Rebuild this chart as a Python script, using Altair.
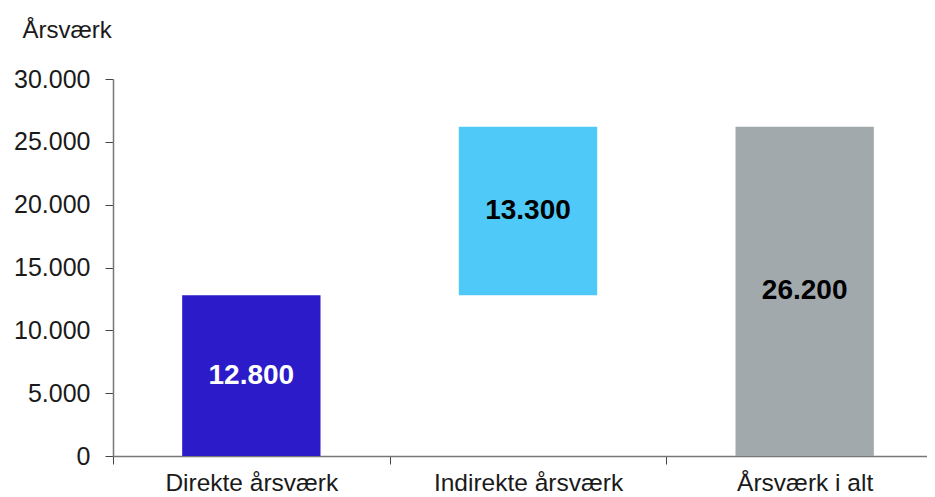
import altair as alt
import pandas as pd

categories = ["Direkte årsværk", "Indirekte årsværk", "Årsværk i alt"]
starts = [0, 12800, 0]
ends = [12800, 26200, 26200]
labels = ["12.800", "13.300", "26.200"]
colors = ["#2B1BC9", "#4FCAF8", "#A1A9AC"]
label_colors = ["#FFFFFF", "#000000", "#000000"]
y_ticks = [0, 5000, 10000, 15000, 20000, 25000, 30000]

df = pd.DataFrame({
    "cat": categories,
    "start": starts,
    "end": ends,
    "label": labels,
    "color": colors,
    "lcolor": label_colors,
})
df["mid"] = (df["start"] + df["end"]) / 2

FONT = "Liberation Sans"
RANGE_W = 830
STEP = RANGE_W / 3

x = alt.X("cat:N", sort=categories, title=None,
          scale=alt.Scale(paddingInner=0.5, paddingOuter=0.25, range=[0, RANGE_W]),
          axis=alt.Axis(labelAngle=0, labelFontSize=24.5, labelColor="#1a1a1a",
                        labelFont=FONT, labelPadding=7, labelLimit=0,
                        tickOffset=-STEP / 2, labelOffset=STEP / 2,
                        tickSize=8, tickColor="#444444", domainColor="#777777",
                        domainWidth=1.5))

bars = alt.Chart(df).mark_bar().encode(
    x=x,
    y=alt.Y("start:Q", title="Årsværk",
            scale=alt.Scale(domain=[0, 30000]),
            axis=alt.Axis(values=y_ticks,
                          labelExpr="replace(format(datum.value, ','), ',', '.')",
                          labelFontSize=25, labelFont=FONT, labelColor="#1a1a1a",
                          labelPadding=15, tickSize=8, tickColor="#444444",
                          domainColor="#777777", domainWidth=1.5, grid=False,
                          titleAngle=0, titleAlign="left", titleBaseline="alphabetic",
                          titleX=-91, titleY=-42, titleFontSize=24,
                          titleFont=FONT, titleFontWeight="normal",
                          titleColor="#1a1a1a")),
    y2="end:Q",
    color=alt.Color("color:N", scale=None),
)

text = alt.Chart(df).mark_text(fontSize=28, fontWeight="bold", font=FONT).encode(
    x=alt.X("cat:N", sort=categories),
    y=alt.Y("mid:Q"),
    text="label:N",
    color=alt.Color("lcolor:N", scale=None),
)

chart = (bars + text).properties(
    width=814, height=377,
    autosize=alt.AutoSizeParams(type="none"),
    padding={"left": 105, "top": 71, "right": 0, "bottom": 41},
).configure(background="white").configure_view(stroke="transparent", strokeWidth=0)

chart.save("out.html", embed_options={"renderer": "svg", "actions": False})
